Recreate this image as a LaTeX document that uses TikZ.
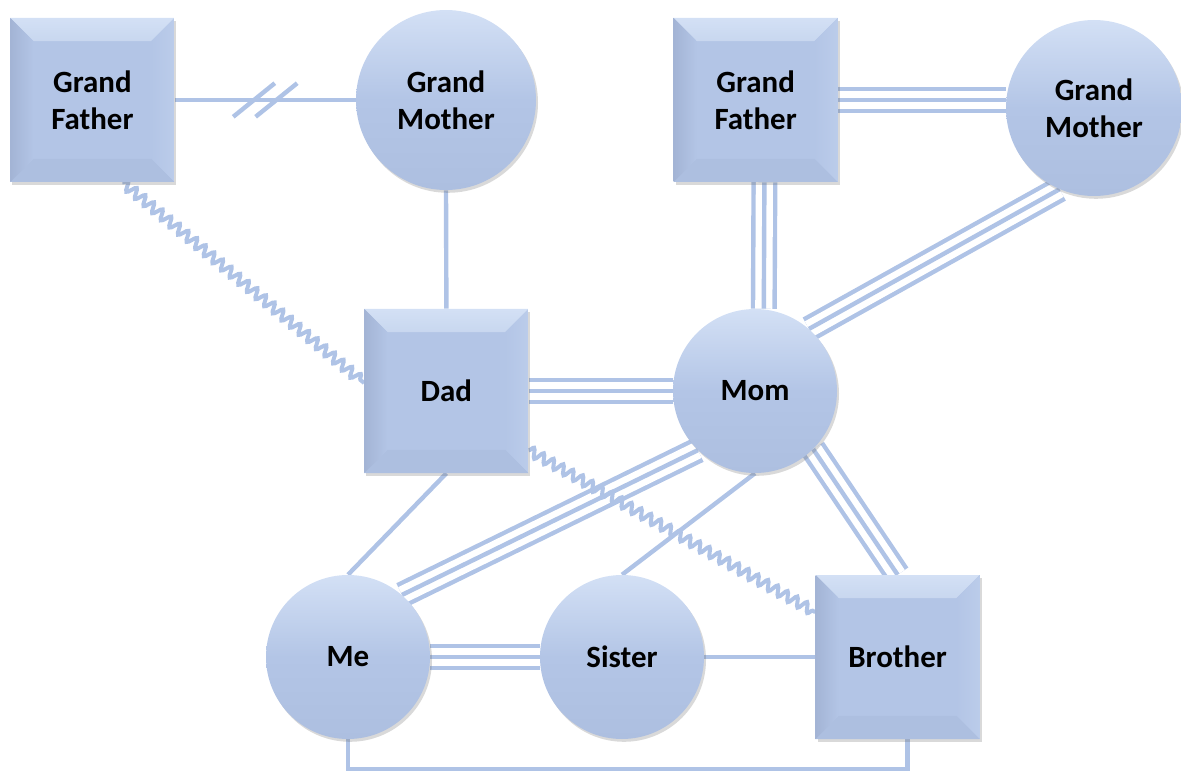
\documentclass[tikz,border=0pt]{standalone}
\usepackage{fontspec}
\setmainfont{Carlito}
\usetikzlibrary{calc,shadows,backgrounds,decorations.pathmorphing}

\definecolor{facec}{HTML}{B3C5E6}
\definecolor{linec}{HTML}{AFC3E6}
\definecolor{bevtopc}{HTML}{C8D7EF}
\definecolor{bevleftc}{HTML}{A3B4D5}
\definecolor{bevrightc}{HTML}{BBCCEA}
\definecolor{bevbotc}{HTML}{ADBFE0}
\definecolor{rimc}{HTML}{D3E0F5}

\tikzset{
	lbl/.style={font=\fontsize{22}{26}\selectfont\bfseries, align=center, text=black},
	shad/.style={drop shadow={shadow xshift=0.05cm, shadow yshift=-0.07cm, opacity=0.25, fill=black!60}},
	sq/.style={lbl, rectangle, minimum size=4.1cm, inner sep=0pt, fill=facec, shad,
		path picture={
			\path (path picture bounding box.north west) coordinate (pnw)
				(path picture bounding box.north east) coordinate (pne)
				(path picture bounding box.south east) coordinate (pse)
				(path picture bounding box.south west) coordinate (psw) ;
			\shade[top color=rimc, bottom color=bevtopc] (pnw) -- (pne) -- ($(pne)+(-0.58,-0.58)$) -- ($(pnw)+(0.58,-0.58)$) -- cycle ;
			\shade[left color=facec, right color=bevrightc] (pne) -- (pse) -- ($(pse)+(-0.58,0.58)$) -- ($(pne)+(-0.58,-0.58)$) -- cycle ;
			\fill[bevbotc] (pse) -- (psw) -- ($(psw)+(0.58,0.58)$) -- ($(pse)+(-0.58,0.58)$) -- cycle ;
			\shade[left color=bevleftc, right color=facec] (psw) -- (pnw) -- ($(pnw)+(0.58,-0.58)$) -- ($(psw)+(0.58,0.58)$) -- cycle ;
		}},
	rond/.style={lbl, circle, minimum size=#1, inner sep=0pt, top color=rimc, bottom color=bevbotc, middle color=facec, shad},
	rond/.default=4.1cm,
	single/.style={draw=linec, line width=0.11cm},
	triple/.style={draw=linec, line width=0.65cm, postaction={draw=white, line width=0.43cm}, postaction={draw=linec, line width=0.11cm}},
	wavy/.style={draw=linec, line width=0.1cm, decorate, decoration={snake, amplitude=0.12cm, segment length=0.28cm}},
}

\begin{document}
\begin{tikzpicture}
	\useasboundingbox (0,0) rectangle (29.525,19.3) ;
	\node[sq] (GrandFatherL) at (2.31,16.8) {Grand\\Father} ;
	\node[rond=4.5cm] (GrandMotherL) at (11.15,16.8) {Grand\\Mother} ;
	\node[sq] (GrandFatherR) at (18.89,16.8) {Grand\\Father} ;
	\node[rond=4.4cm] (GrandMotherR) at (27.35,16.6) {Grand\\Mother} ;
	\node[sq] (Dad) at (11.16,9.525) {Dad} ;
	\node[rond] (Mom) at (18.875,9.525) {Mom} ;
	\node[rond] (Me) at (8.7,2.875) {Me} ;
	\node[rond] (Sister) at (15.55,2.875) {Sister} ;
	\node[sq] (Brother) at (22.44,2.875) {Brother} ;
	\begin{scope}[on background layer]
		\draw[single] (GrandFatherL.east) -- coordinate[pos=0.5] (Split) (GrandMotherL.west) ;
		\foreach \dx in {-0.28,0.28}
			\draw[single] ($(Split)+({\dx-0.52},-0.42)$) -- ++(1.04,0.84) ;
		\draw[single] (GrandMotherL.south) -- (Dad.north) ;
		\draw[single] (Dad.south) -- (Me.north) ;
		\draw[single] (Mom.south) -- (Sister.north) ;
		\draw[single] (Sister.east) -- (Brother.west) ;
		\draw[single] (Me.south) -- ++(0,-0.75) -| ([xshift=0.25cm]Brother.south) ;
		\draw[triple] (GrandFatherR.east) -- (GrandFatherR.east -| GrandMotherR.west) ;
		\draw[triple] ([xshift=0.22cm]GrandFatherR.south) -- ([xshift=0.22cm]Mom.north) ;
		\draw[triple] (GrandMotherR.247) -- (Mom.49) ;
		\draw[triple] (Dad.east) -- (Mom.west) ;
		\draw[triple] (Mom.226) -- (Me.49) ;
		\draw[triple] (Mom.-45) -- (Brother.north) ;
		\draw[triple] (Me.east) -- (Sister.west) ;
		\draw[wavy] ([xshift=0.75cm]GrandFatherL.south) -- ([yshift=0.2cm]Dad.west) ;
		\draw[wavy] ([yshift=-1.48cm]Dad.east) -- ([yshift=1.12cm]Brother.west) ;
	\end{scope}
\end{tikzpicture}
\end{document}
